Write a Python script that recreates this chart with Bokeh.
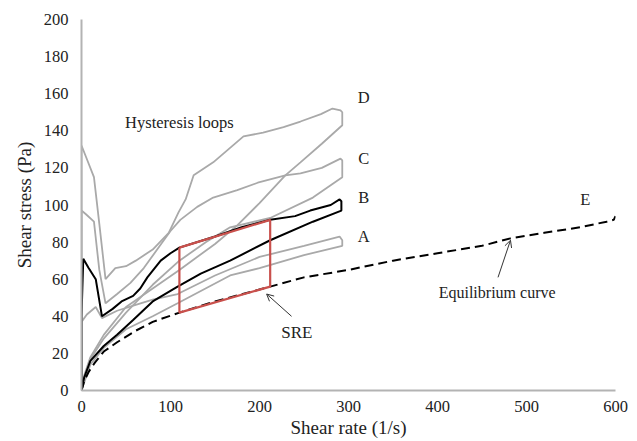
from bokeh.plotting import figure
from bokeh.embed import file_html
from bokeh.resources import INLINE
from bokeh.models import Range1d, FixedTicker, Label, Arrow, OpenHead

# ---- data ----
x_ticks = [0, 100, 200, 300, 400, 500, 600]
y_ticks = [0, 20, 40, 60, 80, 100, 120, 140, 160, 180, 200]

# Equilibrium curve E
e_x = [0, 3, 8, 15, 25, 40, 60, 80, 110, 150, 212, 250, 300, 350, 400, 450, 482, 520, 560, 590, 598, 600]
e_y = [0, 5, 10, 15, 21, 26, 32, 37, 42, 48, 56, 61, 65, 70, 74, 78, 82, 85, 88, 91, 92, 94]

# Loop A (gray): up ramp then down ramp
a_x = [0, 0, 6, 16, 23, 40, 60, 80, 108, 150, 200, 250, 290, 293,
       293, 250, 200, 167, 108, 80, 50, 25, 10, 0]
a_y = [0, 37, 41, 45, 39, 43, 46, 49, 52, 62, 72, 78, 83, 81,
       78, 73, 66, 62, 47, 40, 33, 23, 14, 0]

# Loop B (black)
b_x = [0, 0, 2, 8, 16, 23, 35, 45, 58, 66, 74, 89, 100, 110, 150, 180, 212, 240, 257, 280, 290, 292,
       292, 260, 212, 167, 134, 108, 80, 58, 40, 25, 10, 3, 0]
b_y = [0, 40, 71, 66, 60, 40, 44, 48, 51, 55, 61, 70, 74, 77, 83, 88, 92, 94, 97, 100, 103, 102,
       97, 91, 81, 70, 63, 56, 48, 38, 30, 24, 16, 7, 0]

# Loop C (gray)
c_x = [0, 0, 5, 14, 20, 27, 40, 55, 70, 85, 100, 111, 130, 148, 175, 198, 229, 246, 270, 291, 293,
       293, 260, 212, 167, 140, 110, 80, 50, 25, 10, 3, 0]
c_y = [0, 97, 95, 91, 65, 47, 52, 58, 66, 76, 86, 92, 99, 104, 108, 112, 116, 117, 120, 125, 124,
       115, 104, 93, 88, 80, 70, 57, 42, 28, 17, 7, 0]

# Loop D (gray)
d_x = [0, 0, 5, 14, 20, 27, 38, 50, 61, 80, 98, 109, 117, 126, 148, 165, 182, 204, 227, 246, 269, 282, 291, 293,
       293, 270, 246, 229, 200, 175, 150, 110, 80, 50, 25, 10, 3, 0]
d_y = [0, 132, 126, 115, 90, 60, 66, 67, 70, 76, 85, 96, 103, 116, 123, 130, 137, 139, 142, 145, 149, 152, 151, 150,
       143, 133, 123, 116, 101, 89, 79, 65, 55, 45, 30, 18, 8, 0]

# SRE region
sre_x = [110, 212, 212, 110, 110]
sre_y = [77, 92, 56, 42, 77]

SERIF = "Liberation Serif"

p = figure(width=630, height=440, output_backend="svg", toolbar_location=None,
           x_range=Range1d(0, 600), y_range=Range1d(0, 200),
           min_border_left=81, min_border_right=15, min_border_top=19, min_border_bottom=49)
p.outline_line_color = None
p.grid.grid_line_color = None
p.background_fill_color = "white"

for ax in (p.xaxis, p.yaxis):
    ax.axis_line_color = "#b3b3b3"
    ax.axis_line_width = 2
    ax.major_tick_line_color = None
    ax.minor_tick_line_color = None
    ax.major_label_text_font = SERIF
    ax.major_label_text_font_size = "16.5px"
    ax.major_label_text_color = "#222222"
    ax.axis_label_text_font = SERIF
    ax.axis_label_text_font_size = "19px"
    ax.axis_label_text_font_style = "normal"
    ax.axis_label_text_color = "#222222"

p.xaxis.ticker = FixedTicker(ticks=x_ticks)
p.yaxis.ticker = FixedTicker(ticks=y_ticks)
p.xaxis.axis_label = "Shear rate (1/s)"
p.yaxis.axis_label = "Shear stress (Pa)"
p.xaxis.major_label_standoff = 4
p.yaxis.major_label_standoff = 7
p.xaxis.axis_label_standoff = 2
p.yaxis.axis_label_standoff = 6

gray = "#a9a9a9"
p.line(d_x, d_y, line_color=gray, line_width=1.8)
p.line(c_x, c_y, line_color=gray, line_width=1.8)
p.line(a_x, a_y, line_color=gray, line_width=1.8)
p.line(b_x, b_y, line_color="black", line_width=2)
p.line(e_x, e_y, line_color="black", line_width=2, line_dash="9 5")
p.line(sre_x, sre_y, line_color="#c9504c", line_width=2.2)

def lab(x, y, t, size="16.5px", anchor="center"):
    p.add_layout(Label(x=x, y=y, text=t, text_font=SERIF, text_font_size=size,
                       text_color="#222222", text_align=anchor, text_baseline="middle"))

lab(49, 144.5, "Hysteresis loops", anchor="left")
lab(317, 158, "D")
lab(317, 125, "C")
lab(317, 104, "B")
lab(317, 83, "A")
lab(566, 103, "E")
lab(467, 53, "Equilibrium curve", size="16px")
lab(242, 31, "SRE", size="17px")

p.add_layout(Arrow(end=OpenHead(size=7, line_color="#333333", line_width=1),
                   x_start=468, y_start=61, x_end=482, y_end=81, line_color="#333333", line_width=1))
p.add_layout(Arrow(end=OpenHead(size=7, line_color="#333333", line_width=1),
                   x_start=236, y_start=40, x_end=208, y_end=52, line_color="#333333", line_width=1))

open("out.html", "w").write(file_html(p, INLINE))
